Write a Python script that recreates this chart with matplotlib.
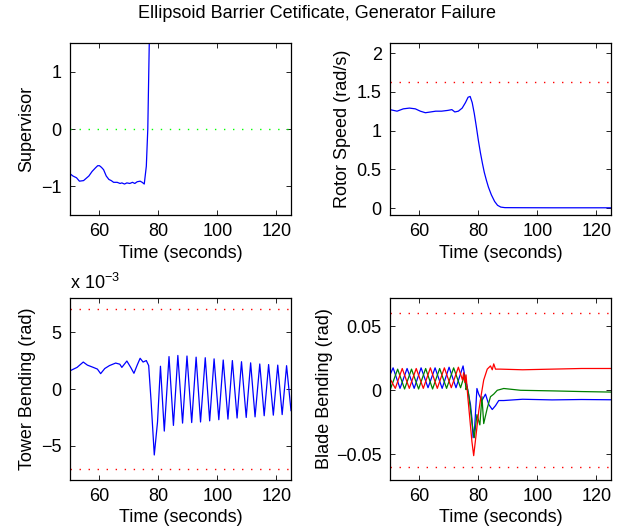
import matplotlib
matplotlib.use('Agg')
import matplotlib.pyplot as plt

plt.rcParams['font.family'] = ['Liberation Sans', 'DejaVu Sans']
plt.rcParams['mathtext.fontset'] = 'custom'
plt.rcParams['mathtext.rm'] = 'Liberation Sans'
plt.rcParams['font.size'] = 13

# supervisor signal
sup_t = [50, 51, 52.2, 53.2, 54.6, 55.5, 56.4, 57.5, 58.6, 59.4, 60, 60.7, 61.4, 62.3, 63.2,
         64.0, 64.8, 66, 67, 67.6, 68.5, 69.3, 70.3, 71.2, 72, 72.8, 73.8, 74.5, 75.2, 75.9,
         76.4, 76.9, 77.5]
sup_v = [-0.78, -0.82, -0.85, -0.91, -0.9, -0.86, -0.82, -0.74, -0.68, -0.64, -0.64, -0.67,
         -0.71, -0.82, -0.88, -0.9, -0.93, -0.93, -0.95, -0.94, -0.96, -0.94, -0.95, -0.93,
         -0.95, -0.92, -0.91, -0.93, -0.96, -0.65, 0.0, 1.5, 2.6]
sup_level = 0.0

# rotor speed (rad/s)
rot_t = [50, 52.4, 54.5, 56.6, 58.6, 60.3, 62, 63.8, 65.5, 67.5, 69.6, 71, 72, 73.2, 74.5,
         75.6, 76.5, 77.2, 77.9, 78.6, 79.3, 80, 80.7, 81.4, 82, 82.7, 83.4, 84.4, 85.5, 86.5,
         87.6, 89, 95, 105, 115, 125]
rot_v = [1.27, 1.25, 1.28, 1.29, 1.28, 1.25, 1.23, 1.24, 1.25, 1.25, 1.26, 1.27, 1.24, 1.25,
         1.29, 1.36, 1.43, 1.44, 1.36, 1.22, 1.05, 0.87, 0.71, 0.57, 0.46, 0.36, 0.27, 0.17,
         0.085, 0.035, 0.012, 0.005, 0.004, 0.003, 0.003, 0.003]
rot_limit = 1.63

# tower bending, in units of 1e-3 rad
tow_t = [50, 52.4, 54.5, 55.9, 57.9, 59.3, 60.4, 61.8, 63.4, 65.5, 66.9, 67.6, 69.3, 70.6,
         71.7, 72.8, 73.8, 74.8, 75.9, 76.7, 77.5, 78.6, 79.7,
         80.7, 82.0, 83.6, 85.1, 86.6, 88.2, 89.7, 91.3, 92.8, 94.3, 95.9, 97.4, 98.9, 100.5,
         102.0, 103.6, 105.1, 106.7, 108.2, 109.8, 111.3, 112.8, 114.4, 115.9, 117.4, 119.0,
         120.5, 122.0, 123.5, 125]
tow_v = [1.6, 1.9, 2.37, 2.1, 1.9, 1.75, 1.35, 1.8, 2.06, 2.28, 2.18, 1.9, 2.46, 1.9,
         1.38, 2.1, 2.7, 2.37, 2.5, 2.06, -1.0, -5.8, -2.9,
         2.0, -3.7, 2.85, -3.2, 2.95, -3.0, 2.9, -2.95, 2.8, -2.9, 2.75, -2.8, 2.65, -2.7,
         2.55, -2.65, 2.5, -2.55, 2.4, -2.5, 2.3, -2.45, 2.2, -2.35, 2.15, -2.3,
         2.1, -2.25, 2.05, -1.9]
tow_limit = 7.0

# blade bending (rad), three blades
b1_t = [50, 51.05, 53.4, 55.8, 58.2, 60.55, 62.9, 65.3, 67.7, 70.05, 72.4, 74.8, 75.6, 76.1,
        76.7, 77.3, 77.8, 78.2, 78.7, 79.5, 80.1, 81.2, 82.4, 83.5, 84.7, 85.8, 86.9, 88.6,
        95, 105, 115, 125]
b1_v = [0.012, 0.0175, 0.0015, 0.017, 0.0015, 0.0175, 0.002, 0.0175, 0.0015, 0.018, 0.002,
        0.019, 0.008, 0.004, -0.004, -0.011, -0.022, -0.037, -0.03, 0.0014, -0.003, -0.008,
        -0.003, -0.011, -0.015, -0.012, -0.008, -0.008, -0.007, -0.0075, -0.0072, -0.0074]
b2_t = [50, 52.6, 54.95, 57.3, 59.7, 62.1, 64.45, 66.85, 69.2, 71.6, 73.95, 75.3, 75.8, 76.1,
        76.7, 77.8, 78.6, 79.5, 80.5, 81.2, 81.8, 83, 84.1, 85.2, 86.4, 88.6, 94.3, 105.7,
        115, 125]
b2_v = [0.0, 0.0165, 0.001, 0.0165, 0.001, 0.017, 0.001, 0.017, 0.0015, 0.0175, 0.002, 0.012,
        0.0005, 0.003, -0.003, -0.025, -0.037, -0.019, -0.027, -0.005, -0.026, -0.014, -0.005,
        -0.003, 0.0, 0.0014, 0.0, -0.0005, -0.001, -0.0014]
b3_t = [50, 51.8, 54.15, 56.55, 58.9, 61.3, 63.7, 66.05, 68.45, 70.8, 73.2, 74.6, 75.0, 75.4,
        75.8, 76.4, 77.2, 77.8, 78.4, 79.2, 80.1, 81.0, 81.8, 83, 84.1, 84.7, 85.2, 85.8, 87.5,
        95, 105, 115, 125]
b3_v = [0.009, 0.0015, 0.017, 0.0015, 0.017, 0.0015, 0.0175, 0.0015, 0.0175, 0.002, 0.018,
        0.008, 0.0137, 0.006, 0.012, -0.005, -0.025, -0.04, -0.051, -0.035, -0.0165, -0.003,
        0.008, 0.0165, 0.019, 0.016, 0.0206, 0.0165, 0.0165, 0.016, 0.0165, 0.017, 0.017]
blade_limit = 0.06

xticks = [60, 80, 100, 120]

W, H = 633, 528
fig = plt.figure(figsize=(W / 100, H / 100), dpi=100)


def make_axes(left, top, right, bottom):
    ax = fig.add_axes([left / W, 1 - bottom / H, (right - left) / W, (bottom - top) / H])
    ax.set_xlim(50, 125)
    ax.set_xticks(xticks)
    ax.tick_params(direction='in', length=3.5, width=0.6, top=True, right=True, pad=6)
    for s in ax.spines.values():
        s.set_linewidth(0.9)
    ax.set_xlabel('Time (seconds)', labelpad=3)
    return ax


def guide(ax, y, color):
    # dotted reference level, MATLAB ':' look
    ax.plot([50, 125], [y, y], color=color, lw=1.0, ls=(0, (1, 5.5)))


ax1 = make_axes(70, 43, 291, 215)
guide(ax1, sup_level, (0, 1, 0))
ax1.plot(sup_t, sup_v, color='b', lw=0.9)
ax1.set_ylim(-1.5, 1.5)
ax1.set_yticks([-1, 0, 1])
ax1.set_ylabel('Supervisor')

ax2 = make_axes(390, 43, 611, 215)
guide(ax2, rot_limit, (1, 0, 0))
ax2.plot(rot_t, rot_v, color='b', lw=0.9)
ax2.set_ylim(-0.09, 2.13)
ax2.set_yticks([0, 0.5, 1, 1.5, 2])
ax2.set_yticklabels(['0', '0.5', '1', '1.5', '2'])
ax2.set_ylabel('Rotor Speed (rad/s)')

ax3 = make_axes(70, 298, 291, 480)
guide(ax3, tow_limit, (1, 0, 0))
guide(ax3, -tow_limit, (1, 0, 0))
ax3.plot(tow_t, tow_v, color='b', lw=0.9)
ax3.set_ylim(-8, 8)
ax3.set_yticks([-5, 0, 5])
ax3.set_ylabel('Tower Bending (rad)')
ax3.text(0, 1.025, 'x 10$^{-3}$', transform=ax3.transAxes, ha='left', va='bottom')

ax4 = make_axes(390, 298, 611, 480)
guide(ax4, blade_limit, (1, 0, 0))
guide(ax4, -blade_limit, (1, 0, 0))
ax4.plot(b1_t, b1_v, color='b', lw=0.9)
ax4.plot(b2_t, b2_v, color=(0, 0.5, 0), lw=0.9)
ax4.plot(b3_t, b3_v, color='r', lw=0.9)
ax4.set_ylim(-0.07, 0.072)
ax4.set_yticks([-0.05, 0, 0.05])
ax4.set_yticklabels(['\u22120.05', '0', '0.05'])
ax4.set_ylabel('Blade Bending (rad)', labelpad=2)

fig.text(0.5, 1 - 14 / H, 'Ellipsoid Barrier Cetificate, Generator Failure',
         ha='center', va='center', fontsize=13)

fig.savefig('out.png', dpi=100)
